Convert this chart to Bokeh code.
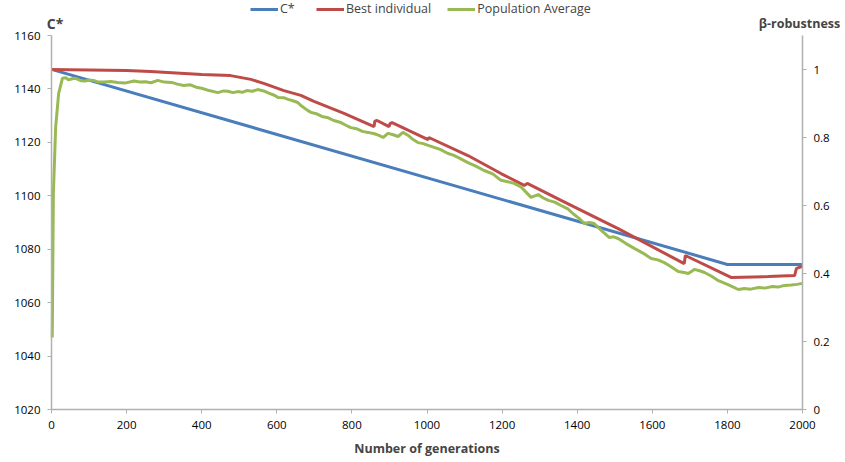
from bokeh.plotting import figure
from bokeh.models import (Range1d, LinearAxis, FixedTicker, Label, Legend,
                          LegendItem, NumeralTickFormatter)
from bokeh.embed import file_html
from bokeh.resources import INLINE

# ---- data -----------------------------------------------------------------
x_ticks = [0, 200, 400, 600, 800, 1000, 1200, 1400, 1600, 1800, 2000]
left_ticks = [1020, 1040, 1060, 1080, 1100, 1120, 1140, 1160]
right_ticks = [0, 0.2, 0.4, 0.6, 0.8, 1.0]
series_names = ["C*", "Best individual", "Population Average"]
series_colors = ["#4A7EBB", "#BE4B48", "#98B954"]

cstar_gen = [0, 1800, 2000]
cstar_val = [1147.3, 1074.3, 1074.3]

best_gen = [0, 200, 264, 400, 477, 531, 565, 619, 664, 699, 779, 859, 861, 867,
            899, 901, 907, 1003, 1005, 1109, 1197, 1259, 1267, 1357, 1509,
            1685, 1688, 1811, 1909, 1979, 1984, 2000]
best_val = [1.000, 0.997, 0.994, 0.985, 0.982, 0.971, 0.959, 0.938, 0.924,
            0.906, 0.871, 0.832, 0.848, 0.850, 0.832, 0.840, 0.844, 0.794,
            0.800, 0.747, 0.694, 0.659, 0.665, 0.615, 0.532, 0.429, 0.453,
            0.388, 0.391, 0.394, 0.415, 0.421]

pop_gen = [2, 5, 11, 19, 29, 38, 45, 55, 64, 78, 90, 100, 112, 125, 140, 158,
           176, 195, 220, 235, 250, 265, 283, 300, 320, 335, 352, 370, 385,
           400, 420, 443, 458, 470, 483, 496, 508, 520, 535, 549, 565, 580,
           592, 603, 618, 630, 643, 656, 664, 683, 691, 705, 720, 737, 752,
           768, 784, 797, 812, 828, 843, 860, 872, 883, 896, 910, 923, 936,
           950, 963, 976, 990, 1005, 1019, 1035, 1056, 1070, 1085, 1109, 1130,
           1152, 1175, 1197, 1215, 1232, 1250, 1263, 1277, 1296, 1310, 1323,
           1340, 1357, 1375, 1390, 1405, 1419, 1432, 1445, 1465, 1485, 1497,
           1509, 1530, 1552, 1575, 1597, 1615, 1632, 1650, 1669, 1685, 1696,
           1712, 1726, 1739, 1758, 1776, 1800, 1816, 1829, 1845, 1862, 1883,
           1900, 1920, 1935, 1952, 1970, 1985, 2000]
pop_val = [0.212, 0.635, 0.829, 0.929, 0.974, 0.976, 0.970, 0.973, 0.974,
           0.967, 0.966, 0.969, 0.968, 0.963, 0.963, 0.965, 0.962, 0.960,
           0.966, 0.963, 0.964, 0.961, 0.968, 0.963, 0.962, 0.957, 0.953,
           0.955, 0.948, 0.945, 0.938, 0.932, 0.937, 0.936, 0.932, 0.935,
           0.933, 0.938, 0.936, 0.941, 0.937, 0.930, 0.925, 0.918, 0.917,
           0.912, 0.908, 0.903, 0.894, 0.879, 0.874, 0.870, 0.862, 0.858,
           0.850, 0.845, 0.836, 0.829, 0.826, 0.818, 0.815, 0.811, 0.806,
           0.800, 0.812, 0.808, 0.803, 0.815, 0.806, 0.794, 0.785, 0.782,
           0.776, 0.771, 0.765, 0.753, 0.748, 0.740, 0.726, 0.716, 0.703,
           0.693, 0.674, 0.670, 0.665, 0.655, 0.640, 0.624, 0.632, 0.622,
           0.615, 0.610, 0.600, 0.590, 0.575, 0.562, 0.547, 0.550, 0.547,
           0.526, 0.506, 0.508, 0.503, 0.488, 0.474, 0.460, 0.444, 0.440,
           0.432, 0.420, 0.406, 0.403, 0.400, 0.412, 0.408, 0.403, 0.392,
           0.379, 0.368, 0.360, 0.353, 0.356, 0.354, 0.359, 0.357, 0.362,
           0.360, 0.365, 0.366, 0.368, 0.371]

# ---- layout constants (pixels) ---------------------------------------------
FONT = "Open Sans"
AXIS_GREY = "#B0B0B0"
W, H = 845, 462
AX_L, AX_R = 51, 802        # x pixel of generation 0 / 2000
AX_T, AX_B = 35, 409        # y pixel of axis top / bottom

X_LO, X_HI = 0, 2000
L_LO, L_HI = 1020, 1160
R_LO, R_HI = 0, 1.1

# the frame covers the whole canvas; the axes are pinned at fixed locations
def ext(lo, hi, p_lo, p_hi, total, flip=False):
    per = (hi - lo) / (p_hi - p_lo)
    if flip:   # vertical: pixel grows downward
        return lo - (total - p_hi) * per, hi + p_lo * per
    return lo - p_lo * per, hi + (total - p_hi) * per

x0, x1 = ext(X_LO, X_HI, AX_L, AX_R, W)
l0, l1 = ext(L_LO, L_HI, AX_T, AX_B, H, flip=True)
r0, r1 = ext(R_LO, R_HI, AX_T, AX_B, H, flip=True)

p = figure(width=W, height=H, x_range=Range1d(x0, x1),
           y_range=Range1d(l0, l1), output_backend="svg",
           toolbar_location=None, x_axis_type=None, y_axis_type=None,
           min_border=0)
p.extra_y_ranges = {"rob": Range1d(r0, r1)}
p.outline_line_color = None
p.grid.visible = False
p.background_fill_color = "white"
p.border_fill_color = "white"

xaxis = LinearAxis(ticker=FixedTicker(ticks=x_ticks), fixed_location=L_LO,
                   bounds=(X_LO, X_HI), axis_label="Number of generations")
laxis = LinearAxis(ticker=FixedTicker(ticks=left_ticks), fixed_location=X_LO,
                   bounds=(L_LO, L_HI))
raxis = LinearAxis(y_range_name="rob", ticker=FixedTicker(ticks=right_ticks),
                   formatter=NumeralTickFormatter(format="0.[0]"),
                   fixed_location=X_HI, bounds=(R_LO, R_HI))
p.add_layout(xaxis, "below")
p.add_layout(laxis, "left")
p.add_layout(raxis, "right")

xaxis.axis_label_text_font = FONT
xaxis.axis_label_text_font_style = "bold"
xaxis.axis_label_text_font_size = "12.5px"
xaxis.axis_label_standoff = 8

for ax in (xaxis, laxis, raxis):
    ax.axis_line_color = AXIS_GREY
    ax.axis_line_width = 1.5
    ax.major_tick_line_color = AXIS_GREY
    ax.major_tick_out = 4
    ax.major_tick_in = 0
    ax.minor_tick_line_color = None
    ax.major_label_text_font = FONT
    ax.major_label_text_font_size = "11.5px"
    ax.major_label_text_color = "black"
    ax.major_label_standoff = 7

r_c = p.line(cstar_gen, cstar_val, line_color=series_colors[0], line_width=3)
r_b = p.line(best_gen, best_val, line_color=series_colors[1], line_width=3,
             y_range_name="rob")
r_p = p.line(pop_gen, pop_val, line_color=series_colors[2], line_width=3,
             y_range_name="rob")

p.add_layout(Label(x=54.5, y=H - 23, x_units="screen", y_units="screen",
                   text="C*", text_font=FONT, text_font_style="bold",
                   text_font_size="14px", text_align="center",
                   text_baseline="middle"))
p.add_layout(Label(x=799, y=H - 23, x_units="screen", y_units="screen",
                   text="β-robustness", text_font=FONT,
                   text_font_style="bold", text_font_size="12.5px",
                   text_align="center", text_baseline="middle"))

legend = Legend(items=[LegendItem(label=n, renderers=[r])
                       for n, r in zip(series_names, [r_c, r_b, r_p])],
                location=(250, H - 17), orientation="horizontal",
                glyph_width=28, glyph_height=16, label_height=16,
                label_standoff=2, spacing=16, padding=0, margin=0,
                label_text_font=FONT, label_text_font_size="12.5px",
                border_line_color=None, background_fill_alpha=0)
p.add_layout(legend, "center")

open("out.html", "w").write(file_html(p, INLINE))
